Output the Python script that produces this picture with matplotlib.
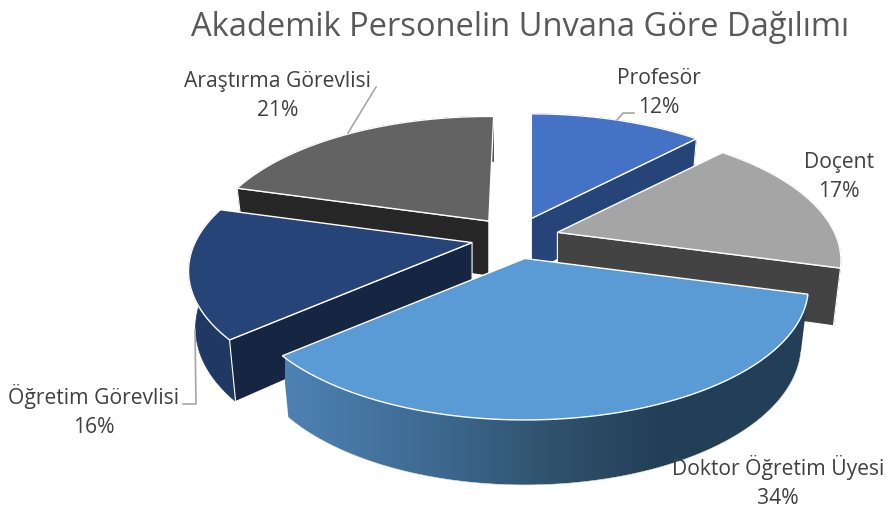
import numpy as np
import matplotlib
matplotlib.use("Agg")
import matplotlib.pyplot as plt
from matplotlib.colors import to_rgb
from matplotlib.patches import Polygon

plt.rcParams['font.family'] = ['Open Sans', 'DejaVu Sans']

title = "Akademik Personelin Unvana Göre Dağılımı"
labels = ["Profesör", "Doçent", "Doktor Öğretim Üyesi", "Öğretim Görevlisi", "Araştırma Görevlisi"]
values = [12, 17, 34, 16, 21]
top_colors = ["#4472C4", "#A5A5A5", "#5B9BD5", "#264478", "#636363"]
cut_colors = ["#264478", "#434343", None, "#162642", "#262626"]
wall_colors = ["#264478", "#5A5A5A", None, "#1F3864", "#3A3A3A"]
visible_cut = ["end", "end", None, "start", "start"]
draw_order = [4, 0, 3, 1, 2]  # back to front
label_pos = [(659, 93), (839, 177), (778, 482), (94, 411), (278, 96)]
leaders = [
    [(617, 120), (623, 113), (634, 113)],
    None,
    None,
    [(195, 330), (196, 404), (183, 404)],
    [(348, 133), (376, 87)],
]

# pixel layout of the tilted pie
CX, CY = 515, 238
RX, RY = 277, 127
PERSP = 0.2135
EXPLODE_X, EXPLODE_Y = 44, 21
DEPTH_BASE, DEPTH_SLOPE = 55, 10
SHRINK = 0.975
# the perspective bends the slice borders a little, degrees per border
EDGE_SHIFT = np.radians([0.0, 0.3, 1.0, 2.0, 1.5, 1.2])

# gradient on the front wall of the big slice, by pixel x
grad_x = [285, 440, 540, 660, 810]
grad_rgb = [to_rgb(c) for c in ["#4E82B3", "#3D688F", "#315470", "#233F57", "#233F57"]]


def project(theta, r, ax0, ay0, bottom=False):
    """Disc point at clockwise angle theta (from north) to pixels, relative to a slice apex."""
    x, y = r * np.sin(theta), r * np.cos(theta)
    w = 1 + PERSP * y
    px, py = RX * x / w, -RY * y / w
    if bottom:
        px = px * SHRINK
        py = py + DEPTH_BASE - DEPTH_SLOPE * y
    return ax0 + px, ay0 + py


def wedge_arc(t0, t1, ax0, ay0, bottom=False, n=120):
    t = np.linspace(t0, t1, n)
    return np.column_stack(project(t, np.ones(n), ax0, ay0, bottom))


fig = plt.figure(figsize=(8.87, 5.11), dpi=100)
ax = fig.add_axes([0, 0, 1, 1])

fractions = np.array(values) / sum(values)
edges = np.concatenate([[0], np.cumsum(fractions)]) * 2 * np.pi + EDGE_SHIFT

for i in draw_order:
    t0, t1 = edges[i], edges[i + 1]
    mid = (t0 + t1) / 2
    ax0 = CX + EXPLODE_X * np.sin(mid)
    ay0 = CY - EXPLODE_Y * np.cos(mid)
    apex_top = np.array([ax0, ay0])
    apex_bot = np.array(project(0.0, 0.0, ax0, ay0, bottom=True))

    arc_top = wedge_arc(t0, t1, ax0, ay0)
    arc_bot = wedge_arc(t0, t1, ax0, ay0, bottom=True)

    # outer wall, the big slice gets a gradient clipped to the wall shape
    wall = np.vstack([arc_top, arc_bot[::-1]])
    if wall_colors[i] is None:
        xs = np.arange(grad_x[0], grad_x[-1] + 1)
        rgb = np.array([np.interp(xs, grad_x, [c[k] for c in grad_rgb]) for k in range(3)]).T[np.newaxis, :, :]
        img = ax.imshow(rgb, extent=(xs[0], xs[-1], 511, 0), aspect='auto', zorder=2, interpolation='bilinear')
        clip = Polygon(wall, closed=True, transform=ax.transData)
        img.set_clip_path(clip)
        ax.plot(arc_bot[:, 0], arc_bot[:, 1], color="#DDE5EE", lw=0.4, zorder=2)
    else:
        ax.add_patch(Polygon(wall, closed=True, facecolor=wall_colors[i], edgecolor=wall_colors[i], lw=0.5, zorder=2))

    # the cut face that looks towards the viewer
    if visible_cut[i]:
        a_t, a_b = (arc_top[0], arc_bot[0]) if visible_cut[i] == "start" else (arc_top[-1], arc_bot[-1])
        face = [apex_top, a_t, a_b, apex_bot]
        ax.add_patch(Polygon(face, closed=True, facecolor=cut_colors[i], edgecolor="white", lw=0.8, zorder=2))

    top = np.vstack([apex_top, arc_top])
    ax.add_patch(Polygon(top, closed=True, facecolor=top_colors[i], edgecolor="white", lw=1.0, zorder=3))

for pts in leaders:
    if pts:
        xs, ys = zip(*pts)
        ax.plot(xs, ys, color="#A6A6A6", lw=1.2, zorder=4)

for name, val, (lx, ly) in zip(labels, values, label_pos):
    ax.text(lx, ly, f"{name}\n{val}%", ha='center', va='center', fontsize=15.2,
            color="#404040", linespacing=1.45, zorder=5)

ax.text(520, 28, title, ha='center', va='center', fontsize=23.5, color="#595959", zorder=5)

ax.set_xlim(0, 887)
ax.set_ylim(511, 0)
ax.axis('off')

fig.savefig("out.png", dpi=100)
